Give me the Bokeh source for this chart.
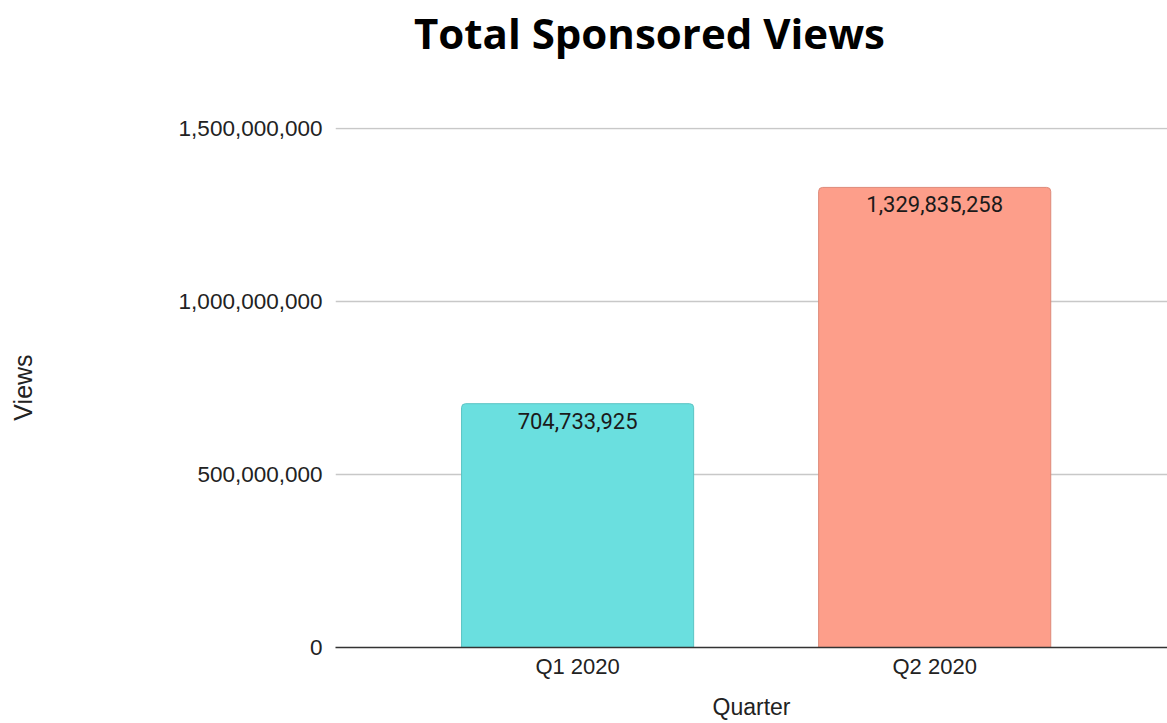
from bokeh.plotting import figure
from bokeh.models import Range1d, FixedTicker, NumeralTickFormatter, ColumnDataSource, Div
from bokeh.layouts import column
from bokeh.core.properties import value
from bokeh.embed import file_html
from bokeh.resources import INLINE

title_text = "Total Sponsored Views"
quarters = ["Q1 2020", "Q2 2020"]
views = [704733925, 1329835258]
bar_colors = ["#6ADFDF", "#FD9E8A"]
edge_colors = ["#5BC4C4", "#DD8A79"]
y_ticks = [0, 500000000, 1000000000, 1500000000]

xpos = [i + 0.5 for i in range(len(quarters))]
labels = ["{:,}".format(v) for v in views]
src = ColumnDataSource(dict(x=xpos, top=views, color=bar_colors, edge=edge_colors, label=labels))

W, H = 1167, 723
TITLE_H = 66

title = Div(text=title_text, width=W, height=TITLE_H,
            styles={"font-family": "'Open Sans'", "font-size": "42px", "font-weight": "bold",
                    "color": "#000000", "text-align": "center", "line-height": "66px",
                    "padding-left": "132px", "box-sizing": "border-box", "margin": "0",
                    "white-space": "nowrap"})

p = figure(width=W, height=H - TITLE_H, output_backend="svg", toolbar_location=None,
           x_range=Range1d(-0.178, 2.152), y_range=Range1d(0, 1503000000),
           min_border_left=335, min_border_right=0, min_border_top=128 - TITLE_H - 1,
           min_border_bottom=76)
p.outline_line_color = None
p.background_fill_color = "white"
p.border_fill_color = "white"

p.vbar(x="x", top="top", width=0.65, bottom=0, fill_color="color", line_color="edge",
       line_width=1, border_radius=[4, 4, 0, 0], source=src)

p.text(x="x", y="top", text="label", source=src, text_align="center", text_baseline="top",
       y_offset=9, text_font=value("Roboto"), text_font_size="22px", text_color="#1a1a1a")

# axes
p.xaxis.ticker = FixedTicker(ticks=xpos)
p.xaxis.major_label_overrides = {x: q for x, q in zip(xpos, quarters)}
p.xaxis.axis_line_color = "#333333"
p.xaxis.axis_line_width = 1.5
p.xaxis.major_tick_line_color = None
p.xaxis.minor_tick_line_color = None
p.xaxis.major_label_text_font = "Liberation Sans"
p.xaxis.major_label_text_font_size = "22px"
p.xaxis.major_label_text_color = "#222222"
p.xaxis.major_label_standoff = 0
p.xaxis.axis_label = "Quarter"
p.xaxis.axis_label_text_font = "Liberation Sans"
p.xaxis.axis_label_text_font_size = "23px"
p.xaxis.axis_label_text_font_style = "normal"
p.xaxis.axis_label_text_color = "#222222"
p.xaxis.axis_label_standoff = 12

p.yaxis.ticker = FixedTicker(ticks=y_ticks)
p.yaxis.formatter = NumeralTickFormatter(format="0,0")
p.yaxis.axis_line_color = None
p.yaxis.major_tick_line_color = None
p.yaxis.minor_tick_line_color = None
p.yaxis.major_label_text_font = "Liberation Sans"
p.yaxis.major_label_text_font_size = "22.5px"
p.yaxis.major_label_text_color = "#222222"
p.yaxis.major_label_standoff = 7
p.yaxis.axis_label = "Views"
p.yaxis.axis_label_text_font = "Liberation Sans"
p.yaxis.axis_label_text_font_size = "25px"
p.yaxis.axis_label_text_font_style = "normal"
p.yaxis.axis_label_text_color = "#222222"
p.yaxis.axis_label_standoff = 139

p.xgrid.grid_line_color = None
p.ygrid.grid_line_color = "#c8c8c8"
p.ygrid.grid_line_width = 1.5

layout = column(title, p, spacing=0)
open("out.html", "w").write(file_html(layout, INLINE))
